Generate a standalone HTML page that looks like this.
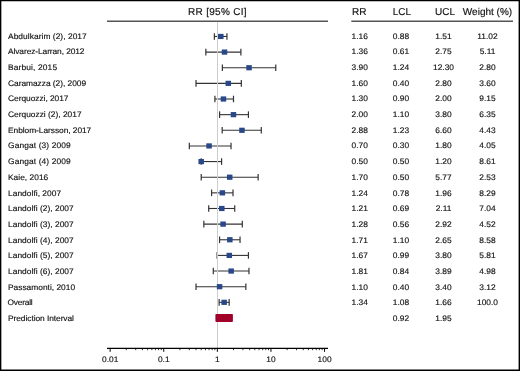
<!DOCTYPE html><html><head><meta charset="utf-8"><style>html,body{margin:0;padding:0;background:#fff;overflow:hidden;width:520px;height:371px}svg{display:block}text{font-family:"Liberation Sans",sans-serif;fill:#111;stroke:#111;stroke-width:0.15px;text-rendering:geometricPrecision}</style></head><body>
<div style="will-change:transform;width:520px;height:371px"><svg width="520" height="371" viewBox="0 0 520 371">
<rect x="0" y="0" width="520" height="371" fill="#fff"/>
<path d="M0 0H520V371H0Z M1.35 1.25V369.5H518.6V1.25Z" fill="#000" fill-rule="evenodd"/>
<text x="217.5" y="15.35" font-size="10" text-anchor="middle" letter-spacing="0.3">RR [95% CI]</text>
<text x="359.3" y="15.35" font-size="10" text-anchor="middle">RR</text>
<text x="401.9" y="15.35" font-size="10" text-anchor="middle">LCL</text>
<text x="445.0" y="15.35" font-size="10" text-anchor="middle">UCL</text>
<text x="487.5" y="15.35" font-size="10" text-anchor="middle">Weight (%)</text>
<line x1="107" y1="21.2" x2="328" y2="21.2" stroke="#555" stroke-width="1.4"/>
<line x1="351.3" y1="21.2" x2="513" y2="21.2" stroke="#555" stroke-width="1.4"/>
<text transform="translate(8 38.80) scale(1 0.95)" font-size="8.4" textLength="78.75" lengthAdjust="spacing">Abdulkarim (2), 2017</text>
<text transform="translate(359.7 38.80) scale(1 0.95)" font-size="8.4" text-anchor="middle">1.16</text>
<text transform="translate(400.9 38.80) scale(1 0.95)" font-size="8.4" text-anchor="middle">0.88</text>
<text transform="translate(443.5 38.80) scale(1 0.95)" font-size="8.4" text-anchor="middle">1.51</text>
<text transform="translate(487.5 38.80) scale(1 0.95)" font-size="8.4" text-anchor="middle">11.02</text>
<line x1="214.37" y1="36.45" x2="226.94" y2="36.45" stroke="#333" stroke-width="1.1"/>
<line x1="214.37" y1="33.15" x2="214.37" y2="39.75" stroke="#333" stroke-width="1.2"/>
<line x1="226.94" y1="33.15" x2="226.94" y2="39.75" stroke="#333" stroke-width="1.2"/>
<text transform="translate(8 54.47) scale(1 0.95)" font-size="8.4" textLength="76.52" lengthAdjust="spacing">Alvarez-Larran, 2012</text>
<text transform="translate(359.7 54.47) scale(1 0.95)" font-size="8.4" text-anchor="middle">1.36</text>
<text transform="translate(400.9 54.47) scale(1 0.95)" font-size="8.4" text-anchor="middle">0.61</text>
<text transform="translate(443.5 54.47) scale(1 0.95)" font-size="8.4" text-anchor="middle">2.75</text>
<text transform="translate(487.5 54.47) scale(1 0.95)" font-size="8.4" text-anchor="middle">5.11</text>
<line x1="205.84" y1="52.09" x2="240.90" y2="52.09" stroke="#333" stroke-width="1.1"/>
<line x1="205.84" y1="48.79" x2="205.84" y2="55.39" stroke="#333" stroke-width="1.2"/>
<line x1="240.90" y1="48.79" x2="240.90" y2="55.39" stroke="#333" stroke-width="1.2"/>
<text transform="translate(8 70.14) scale(1 0.95)" font-size="8.4" textLength="49.10" lengthAdjust="spacing">Barbui, 2015</text>
<text transform="translate(359.7 70.14) scale(1 0.95)" font-size="8.4" text-anchor="middle">3.90</text>
<text transform="translate(400.9 70.14) scale(1 0.95)" font-size="8.4" text-anchor="middle">1.24</text>
<text transform="translate(443.5 70.14) scale(1 0.95)" font-size="8.4" text-anchor="middle">12.30</text>
<text transform="translate(487.5 70.14) scale(1 0.95)" font-size="8.4" text-anchor="middle">2.80</text>
<line x1="222.36" y1="67.73" x2="275.77" y2="67.73" stroke="#333" stroke-width="1.1"/>
<line x1="222.36" y1="64.43" x2="222.36" y2="71.03" stroke="#333" stroke-width="1.2"/>
<line x1="275.77" y1="64.43" x2="275.77" y2="71.03" stroke="#333" stroke-width="1.2"/>
<text transform="translate(8 85.81) scale(1 0.95)" font-size="8.4" textLength="78.07" lengthAdjust="spacing">Caramazza (2), 2009</text>
<text transform="translate(359.7 85.81) scale(1 0.95)" font-size="8.4" text-anchor="middle">1.60</text>
<text transform="translate(400.9 85.81) scale(1 0.95)" font-size="8.4" text-anchor="middle">0.40</text>
<text transform="translate(443.5 85.81) scale(1 0.95)" font-size="8.4" text-anchor="middle">2.80</text>
<text transform="translate(487.5 85.81) scale(1 0.95)" font-size="8.4" text-anchor="middle">3.60</text>
<line x1="196.02" y1="83.37" x2="241.32" y2="83.37" stroke="#333" stroke-width="1.1"/>
<line x1="196.02" y1="80.07" x2="196.02" y2="86.67" stroke="#333" stroke-width="1.2"/>
<line x1="241.32" y1="80.07" x2="241.32" y2="86.67" stroke="#333" stroke-width="1.2"/>
<text transform="translate(8 101.48) scale(1 0.95)" font-size="8.4" textLength="60.50" lengthAdjust="spacing">Cerquozzi, 2017</text>
<text transform="translate(359.7 101.48) scale(1 0.95)" font-size="8.4" text-anchor="middle">1.30</text>
<text transform="translate(400.9 101.48) scale(1 0.95)" font-size="8.4" text-anchor="middle">0.90</text>
<text transform="translate(443.5 101.48) scale(1 0.95)" font-size="8.4" text-anchor="middle">2.00</text>
<text transform="translate(487.5 101.48) scale(1 0.95)" font-size="8.4" text-anchor="middle">9.15</text>
<line x1="214.90" y1="99.01" x2="233.49" y2="99.01" stroke="#333" stroke-width="1.1"/>
<line x1="214.90" y1="95.71" x2="214.90" y2="102.31" stroke="#333" stroke-width="1.2"/>
<line x1="233.49" y1="95.71" x2="233.49" y2="102.31" stroke="#333" stroke-width="1.2"/>
<text transform="translate(8 117.15) scale(1 0.95)" font-size="8.4" textLength="73.56" lengthAdjust="spacing">Cerquozzi (2), 2017</text>
<text transform="translate(359.7 117.15) scale(1 0.95)" font-size="8.4" text-anchor="middle">2.00</text>
<text transform="translate(400.9 117.15) scale(1 0.95)" font-size="8.4" text-anchor="middle">1.10</text>
<text transform="translate(443.5 117.15) scale(1 0.95)" font-size="8.4" text-anchor="middle">3.80</text>
<text transform="translate(487.5 117.15) scale(1 0.95)" font-size="8.4" text-anchor="middle">6.35</text>
<line x1="219.57" y1="114.65" x2="248.43" y2="114.65" stroke="#333" stroke-width="1.1"/>
<line x1="219.57" y1="111.35" x2="219.57" y2="117.95" stroke="#333" stroke-width="1.2"/>
<line x1="248.43" y1="111.35" x2="248.43" y2="117.95" stroke="#333" stroke-width="1.2"/>
<text transform="translate(8 132.82) scale(1 0.95)" font-size="8.4" textLength="83.27" lengthAdjust="spacing">Enblom-Larsson, 2017</text>
<text transform="translate(359.7 132.82) scale(1 0.95)" font-size="8.4" text-anchor="middle">2.88</text>
<text transform="translate(400.9 132.82) scale(1 0.95)" font-size="8.4" text-anchor="middle">1.23</text>
<text transform="translate(443.5 132.82) scale(1 0.95)" font-size="8.4" text-anchor="middle">6.60</text>
<text transform="translate(487.5 132.82) scale(1 0.95)" font-size="8.4" text-anchor="middle">4.43</text>
<line x1="222.17" y1="130.29" x2="261.28" y2="130.29" stroke="#333" stroke-width="1.1"/>
<line x1="222.17" y1="126.99" x2="222.17" y2="133.59" stroke="#333" stroke-width="1.2"/>
<line x1="261.28" y1="126.99" x2="261.28" y2="133.59" stroke="#333" stroke-width="1.2"/>
<text transform="translate(8 148.49) scale(1 0.95)" font-size="8.4" textLength="62.70" lengthAdjust="spacing">Gangat (3) 2009</text>
<text transform="translate(359.7 148.49) scale(1 0.95)" font-size="8.4" text-anchor="middle">0.70</text>
<text transform="translate(400.9 148.49) scale(1 0.95)" font-size="8.4" text-anchor="middle">0.30</text>
<text transform="translate(443.5 148.49) scale(1 0.95)" font-size="8.4" text-anchor="middle">1.80</text>
<text transform="translate(487.5 148.49) scale(1 0.95)" font-size="8.4" text-anchor="middle">4.05</text>
<line x1="189.32" y1="145.93" x2="231.03" y2="145.93" stroke="#333" stroke-width="1.1"/>
<line x1="189.32" y1="142.63" x2="189.32" y2="149.23" stroke="#333" stroke-width="1.2"/>
<line x1="231.03" y1="142.63" x2="231.03" y2="149.23" stroke="#333" stroke-width="1.2"/>
<text transform="translate(8 164.16) scale(1 0.95)" font-size="8.4" textLength="62.70" lengthAdjust="spacing">Gangat (4) 2009</text>
<text transform="translate(359.7 164.16) scale(1 0.95)" font-size="8.4" text-anchor="middle">0.50</text>
<text transform="translate(400.9 164.16) scale(1 0.95)" font-size="8.4" text-anchor="middle">0.50</text>
<text transform="translate(443.5 164.16) scale(1 0.95)" font-size="8.4" text-anchor="middle">1.20</text>
<text transform="translate(487.5 164.16) scale(1 0.95)" font-size="8.4" text-anchor="middle">8.61</text>
<line x1="201.21" y1="161.57" x2="221.59" y2="161.57" stroke="#333" stroke-width="1.1"/>
<line x1="201.21" y1="158.27" x2="201.21" y2="164.87" stroke="#333" stroke-width="1.2"/>
<line x1="221.59" y1="158.27" x2="221.59" y2="164.87" stroke="#333" stroke-width="1.2"/>
<text transform="translate(8 179.83) scale(1 0.95)" font-size="8.4" textLength="40.26" lengthAdjust="spacing">Kaie, 2016</text>
<text transform="translate(359.7 179.83) scale(1 0.95)" font-size="8.4" text-anchor="middle">1.70</text>
<text transform="translate(400.9 179.83) scale(1 0.95)" font-size="8.4" text-anchor="middle">0.50</text>
<text transform="translate(443.5 179.83) scale(1 0.95)" font-size="8.4" text-anchor="middle">5.77</text>
<text transform="translate(487.5 179.83) scale(1 0.95)" font-size="8.4" text-anchor="middle">2.53</text>
<line x1="201.21" y1="177.21" x2="258.15" y2="177.21" stroke="#333" stroke-width="1.1"/>
<line x1="201.21" y1="173.91" x2="201.21" y2="180.51" stroke="#333" stroke-width="1.2"/>
<line x1="258.15" y1="173.91" x2="258.15" y2="180.51" stroke="#333" stroke-width="1.2"/>
<text transform="translate(8 195.50) scale(1 0.95)" font-size="8.4" textLength="53.12" lengthAdjust="spacing">Landolfi, 2007</text>
<text transform="translate(359.7 195.50) scale(1 0.95)" font-size="8.4" text-anchor="middle">1.24</text>
<text transform="translate(400.9 195.50) scale(1 0.95)" font-size="8.4" text-anchor="middle">0.78</text>
<text transform="translate(443.5 195.50) scale(1 0.95)" font-size="8.4" text-anchor="middle">1.96</text>
<text transform="translate(487.5 195.50) scale(1 0.95)" font-size="8.4" text-anchor="middle">8.29</text>
<line x1="211.57" y1="192.85" x2="233.01" y2="192.85" stroke="#333" stroke-width="1.1"/>
<line x1="211.57" y1="189.55" x2="211.57" y2="196.15" stroke="#333" stroke-width="1.2"/>
<line x1="233.01" y1="189.55" x2="233.01" y2="196.15" stroke="#333" stroke-width="1.2"/>
<text transform="translate(8 211.17) scale(1 0.95)" font-size="8.4" textLength="65.69" lengthAdjust="spacing">Landolfi (2), 2007</text>
<text transform="translate(359.7 211.17) scale(1 0.95)" font-size="8.4" text-anchor="middle">1.21</text>
<text transform="translate(400.9 211.17) scale(1 0.95)" font-size="8.4" text-anchor="middle">0.69</text>
<text transform="translate(443.5 211.17) scale(1 0.95)" font-size="8.4" text-anchor="middle">2.11</text>
<text transform="translate(487.5 211.17) scale(1 0.95)" font-size="8.4" text-anchor="middle">7.04</text>
<line x1="208.71" y1="208.49" x2="234.73" y2="208.49" stroke="#333" stroke-width="1.1"/>
<line x1="208.71" y1="205.19" x2="208.71" y2="211.79" stroke="#333" stroke-width="1.2"/>
<line x1="234.73" y1="205.19" x2="234.73" y2="211.79" stroke="#333" stroke-width="1.2"/>
<text transform="translate(8 226.84) scale(1 0.95)" font-size="8.4" textLength="65.69" lengthAdjust="spacing">Landolfi (3), 2007</text>
<text transform="translate(359.7 226.84) scale(1 0.95)" font-size="8.4" text-anchor="middle">1.28</text>
<text transform="translate(400.9 226.84) scale(1 0.95)" font-size="8.4" text-anchor="middle">0.56</text>
<text transform="translate(443.5 226.84) scale(1 0.95)" font-size="8.4" text-anchor="middle">2.92</text>
<text transform="translate(487.5 226.84) scale(1 0.95)" font-size="8.4" text-anchor="middle">4.52</text>
<line x1="203.85" y1="224.13" x2="242.29" y2="224.13" stroke="#333" stroke-width="1.1"/>
<line x1="203.85" y1="220.83" x2="203.85" y2="227.43" stroke="#333" stroke-width="1.2"/>
<line x1="242.29" y1="220.83" x2="242.29" y2="227.43" stroke="#333" stroke-width="1.2"/>
<text transform="translate(8 242.51) scale(1 0.95)" font-size="8.4" textLength="65.69" lengthAdjust="spacing">Landolfi (4), 2007</text>
<text transform="translate(359.7 242.51) scale(1 0.95)" font-size="8.4" text-anchor="middle">1.71</text>
<text transform="translate(400.9 242.51) scale(1 0.95)" font-size="8.4" text-anchor="middle">1.10</text>
<text transform="translate(443.5 242.51) scale(1 0.95)" font-size="8.4" text-anchor="middle">2.65</text>
<text transform="translate(487.5 242.51) scale(1 0.95)" font-size="8.4" text-anchor="middle">8.58</text>
<line x1="219.57" y1="239.77" x2="240.04" y2="239.77" stroke="#333" stroke-width="1.1"/>
<line x1="219.57" y1="236.47" x2="219.57" y2="243.07" stroke="#333" stroke-width="1.2"/>
<line x1="240.04" y1="236.47" x2="240.04" y2="243.07" stroke="#333" stroke-width="1.2"/>
<text transform="translate(8 258.18) scale(1 0.95)" font-size="8.4" textLength="65.69" lengthAdjust="spacing">Landolfi (5), 2007</text>
<text transform="translate(359.7 258.18) scale(1 0.95)" font-size="8.4" text-anchor="middle">1.67</text>
<text transform="translate(400.9 258.18) scale(1 0.95)" font-size="8.4" text-anchor="middle">0.99</text>
<text transform="translate(443.5 258.18) scale(1 0.95)" font-size="8.4" text-anchor="middle">3.80</text>
<text transform="translate(487.5 258.18) scale(1 0.95)" font-size="8.4" text-anchor="middle">5.81</text>
<line x1="217.12" y1="255.41" x2="248.43" y2="255.41" stroke="#333" stroke-width="1.1"/>
<line x1="217.12" y1="252.11" x2="217.12" y2="258.71" stroke="#333" stroke-width="1.2"/>
<line x1="248.43" y1="252.11" x2="248.43" y2="258.71" stroke="#333" stroke-width="1.2"/>
<text transform="translate(8 273.85) scale(1 0.95)" font-size="8.4" textLength="65.69" lengthAdjust="spacing">Landolfi (6), 2007</text>
<text transform="translate(359.7 273.85) scale(1 0.95)" font-size="8.4" text-anchor="middle">1.81</text>
<text transform="translate(400.9 273.85) scale(1 0.95)" font-size="8.4" text-anchor="middle">0.84</text>
<text transform="translate(443.5 273.85) scale(1 0.95)" font-size="8.4" text-anchor="middle">3.89</text>
<text transform="translate(487.5 273.85) scale(1 0.95)" font-size="8.4" text-anchor="middle">4.98</text>
<line x1="213.29" y1="271.05" x2="248.97" y2="271.05" stroke="#333" stroke-width="1.1"/>
<line x1="213.29" y1="267.75" x2="213.29" y2="274.35" stroke="#333" stroke-width="1.2"/>
<line x1="248.97" y1="267.75" x2="248.97" y2="274.35" stroke="#333" stroke-width="1.2"/>
<text transform="translate(8 289.52) scale(1 0.95)" font-size="8.4" textLength="67.05" lengthAdjust="spacing">Passamonti, 2010</text>
<text transform="translate(359.7 289.52) scale(1 0.95)" font-size="8.4" text-anchor="middle">1.10</text>
<text transform="translate(400.9 289.52) scale(1 0.95)" font-size="8.4" text-anchor="middle">0.40</text>
<text transform="translate(443.5 289.52) scale(1 0.95)" font-size="8.4" text-anchor="middle">3.40</text>
<text transform="translate(487.5 289.52) scale(1 0.95)" font-size="8.4" text-anchor="middle">3.12</text>
<line x1="196.02" y1="286.69" x2="245.84" y2="286.69" stroke="#333" stroke-width="1.1"/>
<line x1="196.02" y1="283.39" x2="196.02" y2="289.99" stroke="#333" stroke-width="1.2"/>
<line x1="245.84" y1="283.39" x2="245.84" y2="289.99" stroke="#333" stroke-width="1.2"/>
<text transform="translate(7.4 305.19) scale(1 0.95)" font-size="8.4" textLength="25.33" lengthAdjust="spacing">Overall</text>
<text transform="translate(359.7 305.19) scale(1 0.95)" font-size="8.4" text-anchor="middle">1.34</text>
<text transform="translate(400.9 305.19) scale(1 0.95)" font-size="8.4" text-anchor="middle">1.08</text>
<text transform="translate(443.5 305.19) scale(1 0.95)" font-size="8.4" text-anchor="middle">1.66</text>
<text transform="translate(487.5 305.19) scale(1 0.95)" font-size="8.4" text-anchor="middle">100.0</text>
<line x1="219.14" y1="302.33" x2="229.15" y2="302.33" stroke="#333" stroke-width="1.1"/>
<line x1="219.14" y1="299.03" x2="219.14" y2="305.63" stroke="#333" stroke-width="1.2"/>
<line x1="229.15" y1="299.03" x2="229.15" y2="305.63" stroke="#333" stroke-width="1.2"/>
<text transform="translate(8 320.86) scale(1 0.95)" font-size="8.4" textLength="65.95" lengthAdjust="spacing">Prediction Interval</text>
<text transform="translate(400.9 320.86) scale(1 0.95)" font-size="8.4" text-anchor="middle">0.92</text>
<text transform="translate(443.5 320.86) scale(1 0.95)" font-size="8.4" text-anchor="middle">1.95</text>
<line x1="217.5" y1="21.9" x2="217.5" y2="348" stroke="#cdcdcd" stroke-width="1"/>
<rect x="218.05" y="33.85" width="5.5" height="5.2" fill="#284889"/>
<rect x="221.76" y="49.49" width="5.5" height="5.2" fill="#284889"/>
<rect x="246.28" y="65.13" width="5.5" height="5.2" fill="#284889"/>
<rect x="225.54" y="80.77" width="5.5" height="5.2" fill="#284889"/>
<rect x="220.71" y="96.41" width="5.5" height="5.2" fill="#284889"/>
<rect x="230.74" y="112.05" width="5.5" height="5.2" fill="#284889"/>
<rect x="239.22" y="127.69" width="5.5" height="5.2" fill="#284889"/>
<rect x="206.30" y="143.33" width="5.5" height="5.2" fill="#284889"/>
<rect x="198.46" y="158.97" width="5.5" height="5.2" fill="#284889"/>
<rect x="226.95" y="174.61" width="5.5" height="5.2" fill="#284889"/>
<rect x="219.61" y="190.25" width="5.5" height="5.2" fill="#284889"/>
<rect x="219.04" y="205.89" width="5.5" height="5.2" fill="#284889"/>
<rect x="220.35" y="221.53" width="5.5" height="5.2" fill="#284889"/>
<rect x="227.09" y="237.17" width="5.5" height="5.2" fill="#284889"/>
<rect x="226.54" y="252.81" width="5.5" height="5.2" fill="#284889"/>
<rect x="228.41" y="268.45" width="5.5" height="5.2" fill="#284889"/>
<rect x="216.82" y="284.09" width="5.5" height="5.2" fill="#284889"/>
<rect x="221.41" y="299.73" width="5.5" height="5.2" fill="#284889"/>
<rect x="215.41" y="313.97" width="17.49" height="8" rx="0.9" fill="#a1002b"/>
<line x1="107" y1="348.4" x2="328" y2="348.4" stroke="#000" stroke-width="1.35"/>
<line x1="110.15" y1="348" x2="110.15" y2="351.8" stroke="#000" stroke-width="1"/>
<line x1="126.29" y1="348" x2="126.29" y2="350.2" stroke="#000" stroke-width="0.8"/>
<line x1="135.72" y1="348" x2="135.72" y2="350.2" stroke="#000" stroke-width="0.8"/>
<line x1="142.42" y1="348" x2="142.42" y2="350.2" stroke="#000" stroke-width="0.8"/>
<line x1="147.61" y1="348" x2="147.61" y2="350.2" stroke="#000" stroke-width="0.8"/>
<line x1="151.86" y1="348" x2="151.86" y2="350.2" stroke="#000" stroke-width="0.8"/>
<line x1="155.45" y1="348" x2="155.45" y2="350.2" stroke="#000" stroke-width="0.8"/>
<line x1="158.56" y1="348" x2="158.56" y2="350.2" stroke="#000" stroke-width="0.8"/>
<line x1="161.30" y1="348" x2="161.30" y2="350.2" stroke="#000" stroke-width="0.8"/>
<line x1="163.75" y1="348" x2="163.75" y2="351.8" stroke="#000" stroke-width="1"/>
<line x1="179.89" y1="348" x2="179.89" y2="350.2" stroke="#000" stroke-width="0.8"/>
<line x1="189.32" y1="348" x2="189.32" y2="350.2" stroke="#000" stroke-width="0.8"/>
<line x1="196.02" y1="348" x2="196.02" y2="350.2" stroke="#000" stroke-width="0.8"/>
<line x1="201.21" y1="348" x2="201.21" y2="350.2" stroke="#000" stroke-width="0.8"/>
<line x1="205.46" y1="348" x2="205.46" y2="350.2" stroke="#000" stroke-width="0.8"/>
<line x1="209.05" y1="348" x2="209.05" y2="350.2" stroke="#000" stroke-width="0.8"/>
<line x1="212.16" y1="348" x2="212.16" y2="350.2" stroke="#000" stroke-width="0.8"/>
<line x1="214.90" y1="348" x2="214.90" y2="350.2" stroke="#000" stroke-width="0.8"/>
<line x1="217.35" y1="348" x2="217.35" y2="351.8" stroke="#000" stroke-width="1"/>
<line x1="233.49" y1="348" x2="233.49" y2="350.2" stroke="#000" stroke-width="0.8"/>
<line x1="242.92" y1="348" x2="242.92" y2="350.2" stroke="#000" stroke-width="0.8"/>
<line x1="249.62" y1="348" x2="249.62" y2="350.2" stroke="#000" stroke-width="0.8"/>
<line x1="254.81" y1="348" x2="254.81" y2="350.2" stroke="#000" stroke-width="0.8"/>
<line x1="259.06" y1="348" x2="259.06" y2="350.2" stroke="#000" stroke-width="0.8"/>
<line x1="262.65" y1="348" x2="262.65" y2="350.2" stroke="#000" stroke-width="0.8"/>
<line x1="265.76" y1="348" x2="265.76" y2="350.2" stroke="#000" stroke-width="0.8"/>
<line x1="268.50" y1="348" x2="268.50" y2="350.2" stroke="#000" stroke-width="0.8"/>
<line x1="270.95" y1="348" x2="270.95" y2="351.8" stroke="#000" stroke-width="1"/>
<line x1="287.09" y1="348" x2="287.09" y2="350.2" stroke="#000" stroke-width="0.8"/>
<line x1="296.52" y1="348" x2="296.52" y2="350.2" stroke="#000" stroke-width="0.8"/>
<line x1="303.22" y1="348" x2="303.22" y2="350.2" stroke="#000" stroke-width="0.8"/>
<line x1="308.41" y1="348" x2="308.41" y2="350.2" stroke="#000" stroke-width="0.8"/>
<line x1="312.66" y1="348" x2="312.66" y2="350.2" stroke="#000" stroke-width="0.8"/>
<line x1="316.25" y1="348" x2="316.25" y2="350.2" stroke="#000" stroke-width="0.8"/>
<line x1="319.36" y1="348" x2="319.36" y2="350.2" stroke="#000" stroke-width="0.8"/>
<line x1="322.10" y1="348" x2="322.10" y2="350.2" stroke="#000" stroke-width="0.8"/>
<line x1="324.55" y1="348" x2="324.55" y2="351.8" stroke="#000" stroke-width="1"/>
<text transform="translate(110.15 362) scale(1 0.95)" font-size="8.4" text-anchor="middle">0.01</text>
<text transform="translate(163.75 362) scale(1 0.95)" font-size="8.4" text-anchor="middle">0.1</text>
<text transform="translate(217.35 362) scale(1 0.95)" font-size="8.4" text-anchor="middle">1</text>
<text transform="translate(270.95 362) scale(1 0.95)" font-size="8.4" text-anchor="middle">10</text>
<text transform="translate(324.55 362) scale(1 0.95)" font-size="8.4" text-anchor="middle">100</text>
</svg></div></body></html>
